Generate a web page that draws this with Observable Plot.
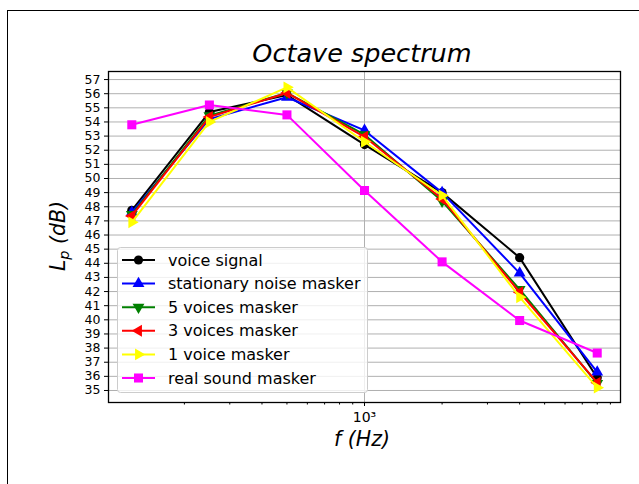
<!DOCTYPE html>
<html><head><meta charset="utf-8">
<script src="https://cdn.jsdelivr.net/npm/d3@7"></script>
<script src="https://cdn.jsdelivr.net/npm/@observablehq/plot@0.6"></script>
<style>
body{margin:0;background:#fff;}
#chart{position:relative;width:639px;height:484px;font-family:"DejaVu Sans",sans-serif;}
</style></head>
<body><div id="chart"></div>
<script>
const freqs = [125, 250, 500, 1000, 2000, 4000, 8000];
const voiceSignal = [47.75, 54.7, 55.9, 52.4, 49.0, 44.4, 35.9];
const stationaryNoise = [47.6, 54.2, 55.75, 53.4, 49.0, 43.3, 36.3];
const fiveVoices = [47.45, 54.45, 56.05, 53.1, 48.4, 42.15, 35.5];
const threeVoices = [47.35, 54.35, 56.05, 52.95, 48.55, 41.95, 35.55];
const oneVoice = [46.9, 54.0, 56.45, 52.6, 48.8, 41.6, 35.2];
const realSound = [53.8, 55.2, 54.5, 49.15, 44.1, 39.95, 37.65];
const seriesNames = ["voice signal", "stationary noise masker", "5 voices masker", "3 voices masker", "1 voice masker", "real sound masker"];
const seriesValues = [voiceSignal, stationaryNoise, fiveVoices, threeVoices, oneVoice, realSound];
const seriesColors = ["#000000", "#0000ff", "#008000", "#ff0000", "#ffff00", "#ff00ff"];
const seriesSymbols = ["circle", "triangle", "triangle", "triangle", "triangle", "square"];
const seriesRotate = [0, 0, 180, -90, 90, 0];
const yTicks = d3.range(35, 58);
const xMajor = [1000];
const xMinor = [200,300,400,500,600,700,800,900,2000,3000,4000,5000,6000,7000,8000,9000];

const symR = s => s === "circle" ? 4.6 : s === "square" ? 5.1 : 4.4;

const marks = [
  Plot.gridY(yTicks, {stroke: "#b0b0b0", strokeOpacity: 1, strokeWidth: 1}),
  Plot.gridX(xMajor, {stroke: "#b0b0b0", strokeOpacity: 1, strokeWidth: 1}),
];
seriesValues.forEach((vals, i) => {
  const data = freqs.map((f, j) => ({f, v: vals[j]}));
  marks.push(Plot.line(data, {x: "f", y: "v", stroke: seriesColors[i], strokeWidth: 2}));
  marks.push(Plot.dot(data, {x: "f", y: "v", symbol: seriesSymbols[i], fill: seriesColors[i], stroke: "none", r: symR(seriesSymbols[i]), rotate: seriesRotate[i]}));
});
marks.push(
  Plot.axisY({ticks: yTicks, tickSize: 4, tickPadding: 4, fontSize: 12.5, label: null, tickFormat: d => d}),
  Plot.axisX({ticks: xMinor, tickSize: 2.5, tickFormat: () => "", label: null}),
  Plot.axisX({ticks: xMajor, tickSize: 4, tickPadding: 6, fontSize: 14, tickFormat: () => "10³", label: null}),
  Plot.frame({stroke: "#000", strokeWidth: 1.3})
);

const plot = Plot.plot({
  width: 639, height: 484,
  marginLeft: 108, marginRight: 19, marginTop: 71, marginBottom: 82,
  style: {fontFamily: "DejaVu Sans, sans-serif", color: "#000", background: "#fff"},
  x: {type: "log", domain: [101.5, 9850]},
  y: {domain: [34.15, 57.57]},
  marks
});
document.getElementById("chart").appendChild(plot);

const svg = d3.select(plot);
// figure border
svg.append("line").attr("x1", 7).attr("x2", 639).attr("y1", 10.5).attr("y2", 10.5).attr("stroke", "#000");
svg.append("line").attr("x1", 7.5).attr("x2", 7.5).attr("y1", 10).attr("y2", 484).attr("stroke", "#000");
// title
svg.append("text").attr("x", 362).attr("y", 62).attr("text-anchor", "middle")
  .attr("font-size", 25.5).attr("font-style", "italic").attr("font-family", "DejaVu Sans").text("Octave spectrum");
// x label
svg.append("text").attr("x", 362).attr("y", 446).attr("text-anchor", "middle")
  .attr("font-size", 20.5).attr("font-style", "italic").attr("font-family", "DejaVu Sans").text("f (Hz)");
// y label
const yl = svg.append("text").attr("transform", "translate(65,236) rotate(-90)").attr("text-anchor", "middle")
  .attr("font-size", 20.5).attr("font-style", "italic").attr("font-family", "DejaVu Sans");
yl.append("tspan").text("L");
yl.append("tspan").attr("font-size", 14.5).attr("dy", 4).text("p");
yl.append("tspan").attr("dy", -4).text(" (dB)");
// legend
const lg = svg.append("g").attr("text-anchor", "start");
lg.append("rect").attr("x", 117.5).attr("y", 247.5).attr("width", 250).attr("height", 145).attr("rx", 3)
  .attr("fill", "#fff").attr("fill-opacity", 0.8).attr("stroke", "#cccccc");
const symMap = {circle: d3.symbolCircle, triangle: d3.symbolTriangle, square: d3.symbolSquare};
seriesNames.forEach((name, i) => {
  const y = 260 + i * 23.6;
  lg.append("line").attr("x1", 122).attr("x2", 155).attr("y1", y).attr("y2", y).attr("stroke", seriesColors[i]).attr("stroke-width", 2);
  const r = symR(seriesSymbols[i]);
  lg.append("path").attr("d", d3.symbol(symMap[seriesSymbols[i]], Math.PI * r * r)())
    .attr("transform", `translate(138.5,${y}) rotate(${seriesRotate[i]})`).attr("fill", seriesColors[i]);
  lg.append("text").attr("x", 168).attr("y", y + 5.5).attr("text-anchor", "start").attr("font-size", 16).attr("font-family", "DejaVu Sans").text(name);
});
</script></body></html>
